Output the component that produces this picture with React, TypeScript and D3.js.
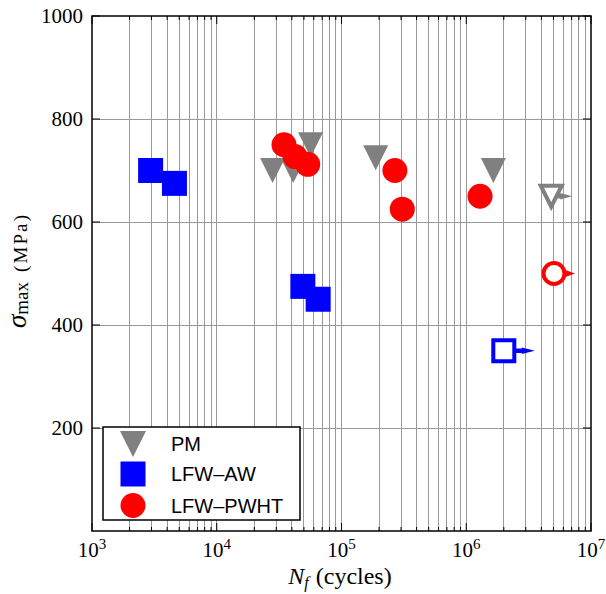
import React from 'react';
import * as d3 from 'd3';

// ---- data ----
const pmN = [2.8e4, 4.1e4, 5.65e4, 1.88e5, 1.65e6];
const pmS = [700, 700, 750, 725, 700];
const pmRunoutN = [4.8e6];
const pmRunoutS = [650];

const awN = [2950, 4580, 4.9e4, 6.5e4];
const awS = [700, 675, 475, 450];
const awRunoutN = [2.0e6];
const awRunoutS = [350];

const pwhtN = [3.46e4, 4.24e4, 5.36e4, 2.68e5, 3.07e5, 1.29e6];
const pwhtS = [750, 727, 712, 700, 625, 650];
const pwhtRunoutN = [5.05e6];
const pwhtRunoutS = [500];

const xTickExps = [3, 4, 5, 6, 7];
const yTicks = [200, 400, 600, 800, 1000];
const legendLabels = ['PM', 'LFW\u2013AW', 'LFW\u2013PWHT'];

const GRAY = '#808080';
const BLUE = '#0000ff';
const RED = '#ff0000';

const W = 606, H = 594;
const L = 92, R = 591, T = 16, B = 531;

const x = d3.scaleLog().domain([1e3, 1e7]).range([L, R]);
const y = d3.scaleLinear().domain([0, 1000]).range([B, T]);

const minorVals: number[] = [];
for (let e = 3; e < 7; e++) for (let m = 2; m <= 9; m++) minorVals.push(m * Math.pow(10, e));

function triPath(cx: number, cy: number, s: number) {
  const p = d3.path();
  p.moveTo(cx - s, cy - s);
  p.lineTo(cx + s, cy - s);
  p.lineTo(cx, cy + s);
  p.closePath();
  return p.toString();
}
function sqPath(cx: number, cy: number, s: number) {
  const p = d3.path();
  p.rect(cx - s, cy - s, 2 * s, 2 * s);
  return p.toString();
}
function circPath(cx: number, cy: number, s: number) {
  const p = d3.path();
  p.moveTo(cx + s, cy);
  p.arc(cx, cy, s, 0, Math.PI * 2);
  p.closePath();
  return p.toString();
}
function arrowPath(cx: number, cy: number, start: number, body: number, tip: number) {
  const p = d3.path();
  const hb = 2.2, hw = 3.2;
  p.moveTo(cx + start, cy - hb);
  p.lineTo(cx + start + body, cy - hb);
  p.lineTo(cx + start + body, cy - hw);
  p.lineTo(cx + tip, cy);
  p.lineTo(cx + start + body, cy + hw);
  p.lineTo(cx + start + body, cy + hb);
  p.lineTo(cx + start, cy + hb);
  p.closePath();
  return p.toString();
}

const serif = '"Liberation Serif", "Times New Roman", serif';
const sans = '"Liberation Sans", Arial, sans-serif';

export default function App() {
  return (
    <svg width={W} height={H} style={{ position: 'absolute', left: 0, top: 0, background: '#fff' }}>
      <rect x={0} y={0} width={W} height={H} fill="#fff" />
      {/* grid */}
      <g stroke="#999" strokeWidth={1} shapeRendering="crispEdges">
        {minorVals.concat([1e4, 1e5, 1e6]).map((v, i) => (
          <line key={'gx' + i} x1={x(v)} x2={x(v)} y1={T} y2={B} />
        ))}
        {yTicks.filter(v => v < 1000).map(v => (
          <line key={'gy' + v} x1={L} x2={R} y1={y(v)} y2={y(v)} />
        ))}
      </g>
      {/* ticks */}
      <g stroke="#000" strokeWidth={1}>
        {minorVals.map((v, i) => (
          <g key={'mt' + i}>
            <line x1={x(v)} x2={x(v)} y1={B} y2={B - 4} />
            <line x1={x(v)} x2={x(v)} y1={T} y2={T + 4} />
          </g>
        ))}
        {xTickExps.map(e => (
          <g key={'xt' + e}>
            <line x1={x(Math.pow(10, e))} x2={x(Math.pow(10, e))} y1={B} y2={B - 8} />
            <line x1={x(Math.pow(10, e))} x2={x(Math.pow(10, e))} y1={T} y2={T + 8} />
          </g>
        ))}
        {yTicks.map(v => (
          <g key={'yt' + v}>
            <line x1={L} x2={L + 8} y1={y(v)} y2={y(v)} />
            <line x1={R} x2={R - 8} y1={y(v)} y2={y(v)} />
          </g>
        ))}
      </g>

      {/* PM */}
      <g fill={GRAY}>
        {pmN.map((n, i) => (
          <path key={'pm' + i} d={triPath(x(n), y(pmS[i]), 12.5)} />
        ))}
      </g>
      {pmRunoutN.map((n, i) => (
        <g key={'pmr' + i}>
          <path d={triPath(x(n), y(pmRunoutS[i]), 10.5)} fill="#fff" stroke={GRAY} strokeWidth={4} />
          <path d={arrowPath(x(n), y(pmRunoutS[i]), 6, 3, 21)} fill={GRAY} />
        </g>
      ))}

      {/* AW */}
      <g fill={BLUE}>
        {awN.map((n, i) => (
          <path key={'aw' + i} d={sqPath(x(n), y(awS[i]), 12.5)} />
        ))}
      </g>
      {awRunoutN.map((n, i) => (
        <g key={'awr' + i}>
          <path d={sqPath(x(n), y(awRunoutS[i]), 10.5)} fill="#fff" stroke={BLUE} strokeWidth={4} />
          <path d={arrowPath(x(n), y(awRunoutS[i]), 12, 6, 31)} fill={BLUE} />
        </g>
      ))}

      {/* PWHT */}
      <g fill={RED}>
        {pwhtN.map((n, i) => (
          <path key={'pw' + i} d={circPath(x(n), y(pwhtS[i]), 12.5)} />
        ))}
      </g>
      {pwhtRunoutN.map((n, i) => (
        <g key={'pwr' + i}>
          <path d={circPath(x(n), y(pwhtRunoutS[i]), 10.5)} fill="#fff" stroke={RED} strokeWidth={4} />
          <path d={arrowPath(x(n), y(pwhtRunoutS[i]), 12, 0, 21)} fill={RED} />
        </g>
      ))}

      {/* frame */}
      <rect x={L} y={T} width={R - L} height={B - T} fill="none" stroke="#000" strokeWidth={1.5} />

      {/* y tick labels */}
      <g fontFamily={serif} fontSize={21} textAnchor="end">
        {yTicks.map(v => (
          <text key={'yl' + v} x={L - 9} y={y(v)} dy="0.35em">{v}</text>
        ))}
      </g>
      {/* x tick labels */}
      <g fontFamily={serif} textAnchor="middle">
        {xTickExps.map(e => (
          <text key={'xl' + e} x={x(Math.pow(10, e))} y={557} fontSize={21}>
            10<tspan fontSize={15} dy={-8}>{e}</tspan>
          </text>
        ))}
      </g>

      {/* axis labels */}
      <text x={340} y={584} fontFamily={serif} fontSize={24} textAnchor="middle">
        <tspan fontStyle="italic">N</tspan>
        <tspan fontStyle="italic" fontSize={16} dy={4}>f</tspan>
        <tspan dy={-4} dx={7}>(cycles)</tspan>
      </text>
      <g transform={`translate(26, 328) rotate(-90)`} fontFamily={serif}>
        <text x={0} y={0} fontSize={27}>
          <tspan fontStyle="italic">σ</tspan>
          <tspan fontSize={19} dy={2}>max</tspan>
        </text>
        <text x={56} y={1} fontSize={19} textLength={57} lengthAdjust="spacing">(MPa)</text>
      </g>

      {/* legend */}
      <rect x={103} y={427} width={197} height={93} fill="#fff" stroke="#000" strokeWidth={1.5} />
      <path d={triPath(133, 444, 13)} fill={GRAY} />
      <path d={sqPath(133, 474, 12.5)} fill={BLUE} />
      <path d={circPath(133, 505.5, 12.5)} fill={RED} />
      <g fontFamily={sans} fontSize={20}>
        {legendLabels.map((t, i) => (
          <text key={t} x={171} y={[444, 474, 505.5][i]} dy="0.36em">{t}</text>
        ))}
      </g>
    </svg>
  );
}
